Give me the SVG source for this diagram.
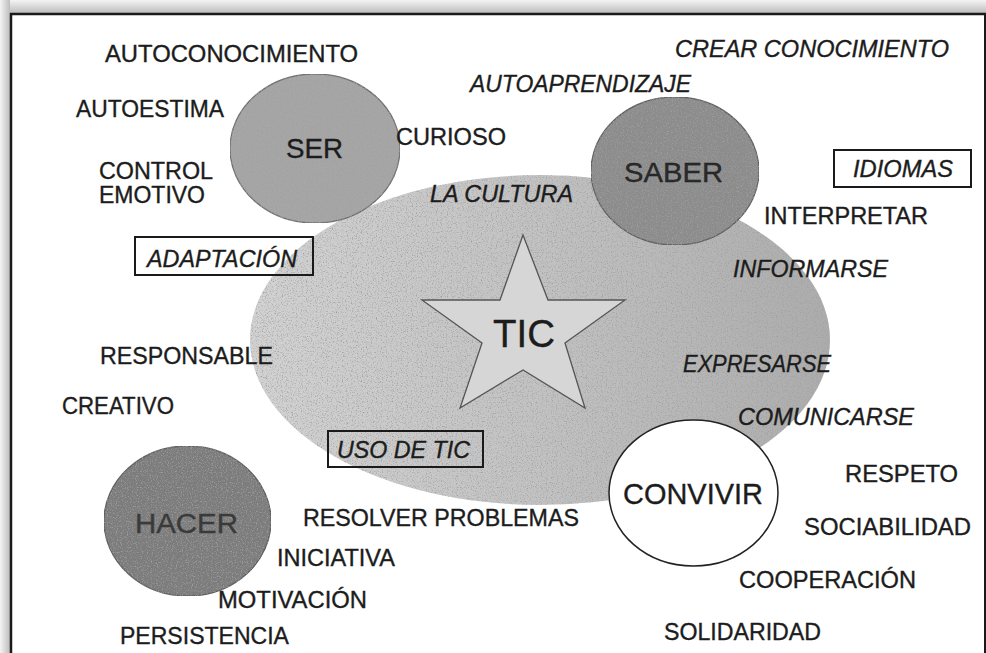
<svg xmlns="http://www.w3.org/2000/svg" width="986" height="653" viewBox="0 0 986 653">
<defs>
<style>
text{font-family:"Liberation Sans",Arial,sans-serif;fill:#1c1c1c;stroke:#1c1c1c;stroke-width:0.35}
.l{font-size:23px}
.i{font-size:23px;font-style:italic}
.big{font-size:27px}
.box{fill:none;stroke:#1a1a1a;stroke-width:2}
</style>
<linearGradient id="shT" x1="0" y1="0" x2="0" y2="1">
<stop offset="0" stop-color="#f4f4f4"/><stop offset="1" stop-color="#bdbdbd"/>
</linearGradient>
<linearGradient id="shL" x1="0" y1="0" x2="1" y2="0">
<stop offset="0" stop-color="#f4f4f4"/><stop offset="1" stop-color="#bdbdbd"/>
</linearGradient>
<linearGradient id="ticFill" x1="0" y1="0" x2="1" y2="0">
<stop offset="0" stop-color="#d2d2d2"/><stop offset="0.5" stop-color="#c2c2c2"/><stop offset="1" stop-color="#acacac"/>
</linearGradient>
<filter id="grain" x="0" y="0" width="100%" height="100%">
<feTurbulence type="fractalNoise" baseFrequency="0.8" numOctaves="2" seed="4" result="n"/>
<feColorMatrix in="n" type="matrix" values="0 0 0 0 0.35  0 0 0 0 0.35  0 0 0 0 0.35  3 0 0 0 -1.5" result="d"/>
<feComposite in="d" in2="SourceGraphic" operator="in" result="dm"/>
<feMerge><feMergeNode in="SourceGraphic"/><feMergeNode in="dm"/></feMerge>
</filter>
</defs>
<rect width="986" height="653" fill="#ffffff"/>
<g id="frame">
<rect x="0" y="0" width="986" height="13" fill="url(#shT)"/>
<rect x="0" y="0" width="10" height="653" fill="url(#shL)"/>
<line x1="10" y1="14" x2="986" y2="14" stroke="#1a1a1a" stroke-width="2.5"/>
<line x1="11" y1="13" x2="11" y2="653" stroke="#1a1a1a" stroke-width="2.5"/>
<line x1="985" y1="13" x2="985" y2="653" stroke="#1a1a1a" stroke-width="2"/>
</g>
<g id="connectors"/>
<g id="tic-area">
<ellipse cx="540" cy="340" rx="290" ry="165" fill="url(#ticFill)" filter="url(#grain)"/>
</g>
<g id="tic">
<polygon points="523,235 548,300 625,300 565,343 585,408 523,370 460,408 482,343 422,300 500,300" fill="#d6d6d6" stroke="#555" stroke-width="1.3"/>
<text x="493" y="347" font-size="39" textLength="62" lengthAdjust="spacingAndGlyphs">TIC</text>
</g>
<g id="ser">
<ellipse cx="315" cy="148.5" rx="85" ry="74.5" fill="#a6a6a6" stroke="#707070" stroke-width="1.3" filter="url(#grain)"/>
<text class="big" x="286" y="158" textLength="57" lengthAdjust="spacingAndGlyphs">SER</text>
</g>
<g id="saber">
<ellipse cx="675" cy="171" rx="84" ry="74" fill="#8c8c8c" stroke="#606060" stroke-width="1.3" filter="url(#grain)"/>
<text class="big" x="624" y="182" textLength="99" lengthAdjust="spacingAndGlyphs" style="fill:#2a2a2a">SABER</text>
</g>
<g id="hacer">
<ellipse cx="187.5" cy="521" rx="83.5" ry="75" fill="#7c7c7c" stroke="#606060" stroke-width="1.3" filter="url(#grain)"/>
<text class="big" x="135" y="533" textLength="103" lengthAdjust="spacingAndGlyphs" style="fill:#3a3a3a;stroke:#3a3a3a">HACER</text>
</g>
<g id="convivir">
<ellipse cx="693.5" cy="493" rx="84.5" ry="73" fill="#ffffff" stroke="#222" stroke-width="1.5"/>
<text x="623" y="504" font-size="30" textLength="140" lengthAdjust="spacingAndGlyphs">CONVIVIR</text>
</g>
<g id="labels-ser">
<text class="l" x="105" y="62" textLength="253" lengthAdjust="spacingAndGlyphs">AUTOCONOCIMIENTO</text>
<text class="l" x="76" y="117" textLength="148" lengthAdjust="spacingAndGlyphs">AUTOESTIMA</text>
<text class="l" x="99" y="179" textLength="114" lengthAdjust="spacingAndGlyphs">CONTROL</text>
<text class="l" x="99" y="203" textLength="106" lengthAdjust="spacingAndGlyphs">EMOTIVO</text>
<text class="l" x="396" y="145" textLength="110" lengthAdjust="spacingAndGlyphs">CURIOSO</text>
<text class="i" x="430" y="202" textLength="143" lengthAdjust="spacingAndGlyphs">LA CULTURA</text>
</g>
<g id="adaptacion">
<rect class="box" x="135" y="237" width="178" height="38"/>
<text class="i" x="147" y="267" textLength="150" lengthAdjust="spacingAndGlyphs">ADAPTACIÓN</text>
</g>
<g id="labels-saber">
<text class="i" x="675" y="57" textLength="274" lengthAdjust="spacingAndGlyphs">CREAR CONOCIMIENTO</text>
<text class="i" x="470" y="92" textLength="221" lengthAdjust="spacingAndGlyphs">AUTOAPRENDIZAJE</text>
<text class="l" x="764" y="224" textLength="164" lengthAdjust="spacingAndGlyphs">INTERPRETAR</text>
<text class="i" x="733" y="277" textLength="155" lengthAdjust="spacingAndGlyphs">INFORMARSE</text>
</g>
<g id="idiomas">
<rect class="box" x="834" y="150" width="137" height="37"/>
<text class="i" x="853" y="177" textLength="100" lengthAdjust="spacingAndGlyphs">IDIOMAS</text>
</g>
<g id="labels-hacer">
<text class="l" x="100" y="364" textLength="173" lengthAdjust="spacingAndGlyphs">RESPONSABLE</text>
<text class="l" x="62" y="414" textLength="112" lengthAdjust="spacingAndGlyphs">CREATIVO</text>
<text class="l" x="303" y="526" textLength="276" lengthAdjust="spacingAndGlyphs">RESOLVER PROBLEMAS</text>
<text class="l" x="277" y="566" textLength="118" lengthAdjust="spacingAndGlyphs">INICIATIVA</text>
<text class="l" x="218" y="608" textLength="149" lengthAdjust="spacingAndGlyphs">MOTIVACIÓN</text>
<text class="l" x="120" y="644" textLength="169" lengthAdjust="spacingAndGlyphs">PERSISTENCIA</text>
</g>
<g id="uso-de-tic">
<rect class="box" x="328" y="431" width="155" height="36"/>
<text class="i" x="337" y="458" textLength="133" lengthAdjust="spacingAndGlyphs">USO DE TIC</text>
</g>
<g id="labels-convivir">
<text class="i" x="683" y="372" textLength="148" lengthAdjust="spacingAndGlyphs">EXPRESARSE</text>
<text class="i" x="738" y="425" textLength="176" lengthAdjust="spacingAndGlyphs">COMUNICARSE</text>
<text class="l" x="845" y="482" textLength="113" lengthAdjust="spacingAndGlyphs">RESPETO</text>
<text class="l" x="804" y="535" textLength="167" lengthAdjust="spacingAndGlyphs">SOCIABILIDAD</text>
<text class="l" x="739" y="588" textLength="177" lengthAdjust="spacingAndGlyphs">COOPERACIÓN</text>
<text class="l" x="664" y="640" textLength="157" lengthAdjust="spacingAndGlyphs">SOLIDARIDAD</text>
</g>
</svg>
